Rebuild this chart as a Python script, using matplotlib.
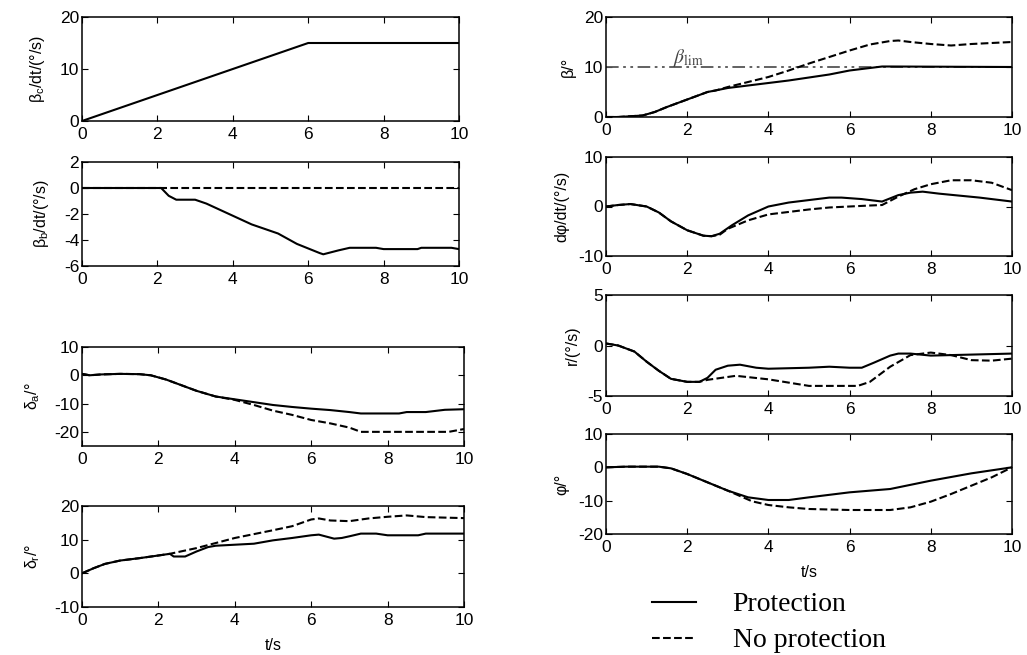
import matplotlib
matplotlib.use("Agg")
import matplotlib.pyplot as plt
from matplotlib.lines import Line2D

plt.rcParams['font.family'] = ['Liberation Sans', 'DejaVu Sans']
plt.rcParams['mathtext.fontset'] = 'custom'
plt.rcParams['mathtext.rm'] = 'Liberation Sans'
plt.rcParams['mathtext.it'] = 'Liberation Sans'
plt.rcParams['axes.unicode_minus'] = False

# ---------------- data ----------------
# Left 1: beta_c rate
t_bc = [0, 6, 10]
bc = [0, 15, 15]

# Left 2: beta_b rate
t_bb_p = [0, 2.1, 2.3, 2.5, 3.0, 3.3, 3.9, 4.5, 5.2, 5.7, 6.3, 6.4, 6.8, 7.1, 7.8, 8.0, 8.9, 9.0, 9.8, 10]
bb_p = [0, 0, -0.6, -0.9, -0.9, -1.2, -2.0, -2.8, -3.5, -4.3, -5.0, -5.1, -4.8, -4.6, -4.6, -4.7, -4.7, -4.6, -4.6, -4.7]
t_bb_n = [0, 10]
bb_n = [0, 0]

# Left 3: delta_a
t_da_p = [0, 0.2, 0.5, 1.0, 1.5, 1.8, 2.2, 2.6, 3.0, 3.5, 4.0, 4.5, 5.0, 5.5, 6.0, 6.5, 7.0, 7.3, 8.3, 8.5, 9.0, 9.5, 10]
da_p = [0.5, 0, 0.3, 0.5, 0.4, 0, -1.5, -3.5, -5.5, -7.5, -8.5, -9.5, -10.5, -11.2, -11.8, -12.3, -13.0, -13.5, -13.5, -13.0, -13.0, -12.2, -12.0]
t_da_n = [0, 0.2, 0.5, 1.0, 1.5, 1.8, 2.2, 2.6, 3.0, 3.5, 4.0, 4.5, 5.0, 5.5, 6.0, 6.5, 7.0, 7.3, 8.0, 9.3, 9.6, 10]
da_n = [0.5, 0, 0.3, 0.5, 0.4, 0, -1.5, -3.5, -5.5, -7.5, -8.7, -10.5, -12.5, -14.0, -15.8, -17.0, -18.5, -20.0, -20.0, -20.0, -20.0, -19.0]

# Left 4: delta_r
t_dr_p = [0, 0.3, 0.6, 1.0, 1.5, 2.0, 2.3, 2.4, 2.7, 3.0, 3.3, 3.5, 4.0, 4.5, 5.0, 5.5, 6.0, 6.2, 6.6, 6.8, 7.0, 7.3, 7.7, 8.0, 8.8, 9.0, 10]
dr_p = [0, 1.5, 2.8, 3.8, 4.5, 5.3, 5.8, 5.0, 5.0, 6.5, 7.8, 8.2, 8.5, 8.8, 9.8, 10.5, 11.3, 11.5, 10.3, 10.5, 11.0, 11.8, 11.8, 11.3, 11.3, 11.8, 11.8]
t_dr_n = [0, 0.3, 0.6, 1.0, 1.5, 2.0, 2.3, 3.0, 3.5, 4.0, 5.0, 5.5, 6.0, 6.2, 6.5, 7.0, 7.5, 8.0, 8.5, 9.0, 10]
dr_n = [0, 1.5, 2.8, 3.8, 4.5, 5.3, 5.8, 7.5, 9.0, 10.5, 12.8, 14.0, 16.0, 16.3, 15.7, 15.5, 16.3, 16.8, 17.2, 16.7, 16.4]

# Right 1: beta
t_b_p = [0, 0.3, 0.9, 1.2, 1.5, 2.0, 2.5, 3.0, 3.5, 4.0, 4.5, 5.0, 5.5, 6.0, 6.5, 6.8, 7.0, 10]
b_p = [0, 0, 0.3, 1.0, 2.0, 3.5, 5.0, 5.8, 6.3, 6.8, 7.3, 7.9, 8.5, 9.3, 9.8, 10.1, 10.1, 10.0]
t_b_n = [0, 0.3, 0.9, 1.2, 1.5, 2.0, 2.5, 2.7, 3.0, 3.5, 4.0, 4.5, 5.0, 5.5, 6.0, 6.5, 7.0, 7.2, 7.5, 8.0, 8.5, 9.0, 9.5, 10]
b_n = [0, 0, 0.3, 1.0, 2.0, 3.5, 5.0, 5.3, 6.0, 7.0, 8.0, 9.3, 10.7, 12.0, 13.3, 14.5, 15.2, 15.3, 15.0, 14.6, 14.3, 14.6, 14.8, 15.0]
beta_lim = 10

# Right 2: roll rate
t_p_p = [0, 0.3, 0.6, 1.0, 1.3, 1.6, 2.0, 2.4, 2.6, 2.8, 3.1, 3.5, 4.0, 4.5, 5.0, 5.5, 5.8, 6.3, 6.8, 7.2, 7.5, 7.8, 8.2, 8.7, 9.2, 10]
p_p = [0, 0.3, 0.5, 0, -1.2, -3.0, -4.8, -5.9, -6.0, -5.5, -3.8, -1.8, 0, 0.8, 1.3, 1.8, 1.8, 1.5, 1.0, 2.3, 2.8, 3.0, 2.6, 2.2, 1.8, 1.0]
t_p_n = [0, 0.3, 0.6, 1.0, 1.3, 1.6, 2.0, 2.4, 2.6, 2.8, 3.0, 3.5, 4.0, 4.5, 5.0, 5.5, 6.0, 6.5, 6.8, 7.2, 7.6, 8.0, 8.5, 9.0, 9.5, 10]
p_n = [0, 0.3, 0.5, 0, -1.2, -3.0, -4.8, -5.9, -6.0, -5.7, -4.5, -2.8, -1.6, -1.1, -0.6, -0.2, 0, 0.2, 0.3, 2.0, 3.5, 4.5, 5.3, 5.3, 4.8, 3.3]

# Right 3: yaw rate
t_r_p = [0, 0.3, 0.7, 1.0, 1.3, 1.6, 2.0, 2.3, 2.5, 2.7, 3.0, 3.3, 3.7, 4.0, 5.0, 5.5, 6.0, 6.3, 6.6, 7.0, 7.2, 7.5, 8.0, 10]
r_p = [0.2, 0, -0.6, -1.6, -2.5, -3.3, -3.6, -3.6, -3.2, -2.4, -2.0, -1.9, -2.2, -2.3, -2.2, -2.1, -2.2, -2.2, -1.7, -1.0, -0.8, -0.8, -1.0, -0.8]
t_r_n = [0, 0.3, 0.7, 1.0, 1.3, 1.6, 2.0, 2.3, 2.5, 3.2, 4.0, 5.0, 6.2, 6.5, 7.0, 7.5, 8.0, 8.5, 9.0, 9.5, 10]
r_n = [0.2, 0, -0.6, -1.6, -2.5, -3.3, -3.6, -3.6, -3.4, -3.0, -3.35, -4.0, -4.0, -3.6, -2.1, -0.95, -0.7, -0.95, -1.45, -1.5, -1.3]

# Right 4: roll angle
t_f_p = [0, 0.5, 1.3, 1.6, 2.0, 2.5, 3.0, 3.5, 4.0, 4.5, 5.0, 6.0, 7.0, 8.0, 9.0, 10]
f_p = [0, 0.2, 0.2, -0.3, -2.0, -4.5, -7.0, -9.0, -9.8, -9.8, -9.0, -7.5, -6.5, -4.0, -1.8, 0]
t_f_n = [0, 0.5, 1.3, 1.6, 2.0, 2.5, 3.0, 3.6, 4.0, 4.5, 5.0, 6.0, 7.0, 7.5, 8.0, 8.5, 9.0, 9.5, 10]
f_n = [0, 0.2, 0.2, -0.3, -2.0, -4.5, -7.0, -10.2, -11.3, -12.0, -12.5, -12.8, -12.8, -12.0, -10.3, -8.0, -5.5, -3.0, 0]

xticks = [0, 2, 4, 6, 8, 10]

# ---------------- figure ----------------
W, H = 1027, 655
fig = plt.figure(figsize=(W / 100, H / 100), dpi=100)

def make_ax(l, r, t, b):
    return fig.add_axes([l / W, 1 - b / H, (r - l) / W, (b - t) / H])

LW = 1.5
FS = 12.5
LFS = 11.5

def style(ax, ylim, yticks, ylabel, lpad=9):
    ax.set_xlim(0, 10)
    ax.set_ylim(*ylim)
    ax.set_xticks(xticks)
    ax.set_yticks(yticks)
    ax.tick_params(direction='in', top=True, right=True, length=4, width=0.8,
                   labelsize=FS)
    ax.tick_params(axis='x', pad=4.5)
    ax.tick_params(axis='y', pad=2)
    for s in ax.spines.values():
        s.set_linewidth(1.1)
    ax.set_ylabel(ylabel, fontsize=LFS, labelpad=lpad)

# Left column
ax = make_ax(82, 459, 17, 121)
ax.plot(t_bc, bc, 'k-', lw=LW)
style(ax, (0, 20), [0, 10, 20], r'$\beta_c$/dt/(°/s)')

ax = make_ax(82, 459, 162, 266)
ax.plot(t_bb_n, bb_n, 'k--', lw=LW)
ax.plot(t_bb_p, bb_p, 'k-', lw=LW)
style(ax, (-6, 2), [-6, -4, -2, 0, 2], r'$\beta_b$/dt/(°/s)')

ax = make_ax(82, 464, 347, 446)
ax.plot(t_da_n, da_n, 'k--', lw=LW)
ax.plot(t_da_p, da_p, 'k-', lw=LW)
style(ax, (-25, 10), [-20, -10, 0, 10], r'$\delta_a$/°')

ax = make_ax(82, 464, 506, 607)
ax.plot(t_dr_n, dr_n, 'k--', lw=LW)
ax.plot(t_dr_p, dr_p, 'k-', lw=LW)
style(ax, (-10, 20), [-10, 0, 10, 20], r'$\delta_r$/°')
ax.set_xlabel('t/s', fontsize=LFS, labelpad=7)

# Right column
ax = make_ax(606, 1012, 17, 117)
ax.plot([0, 10], [beta_lim, beta_lim], color='#555555', lw=1.3,
        dashes=(7, 2.5, 1.5, 2.5, 1.5, 2.5))
ax.plot(t_b_n, b_n, 'k--', lw=LW)
ax.plot(t_b_p, b_p, 'k-', lw=LW)
ax.text(1.65, 10.8, r'$\beta_{\rm lim}$', fontsize=14, color='#444444',
        math_fontfamily='stix')
style(ax, (0, 20), [0, 10, 20], 'β/°', lpad=6)

ax = make_ax(606, 1012, 157, 256)
ax.plot(t_p_n, p_n, 'k--', lw=LW)
ax.plot(t_p_p, p_p, 'k-', lw=LW)
style(ax, (-10, 10), [-10, 0, 10], 'dφ/dt/(°/s)', lpad=6)

ax = make_ax(606, 1012, 295, 396)
ax.plot(t_r_n, r_n, 'k--', lw=LW)
ax.plot(t_r_p, r_p, 'k-', lw=LW)
style(ax, (-5, 5), [-5, 0, 5], 'r/(°/s)', lpad=6)

ax = make_ax(606, 1012, 434, 534)
ax.plot(t_f_n, f_n, 'k--', lw=LW)
ax.plot(t_f_p, f_p, 'k-', lw=LW)
style(ax, (-20, 10), [-20, -10, 0, 10], 'φ/°', lpad=6)
ax.set_xlabel('t/s', fontsize=LFS, labelpad=7)

handles = [Line2D([], [], color='k', lw=LW, ls='-'),
           Line2D([], [], color='k', lw=LW, ls='--')]
fig.legend(handles, ['Protection', 'No protection'], loc='upper left',
           bbox_to_anchor=(652 / W, 1 - 592 / H), frameon=False,
           prop={'family': 'Liberation Serif', 'size': 20},
           handlelength=1.6, handletextpad=1.3, labelspacing=0.38,
           borderpad=0, borderaxespad=0)

fig.savefig('out.png', dpi=100)
